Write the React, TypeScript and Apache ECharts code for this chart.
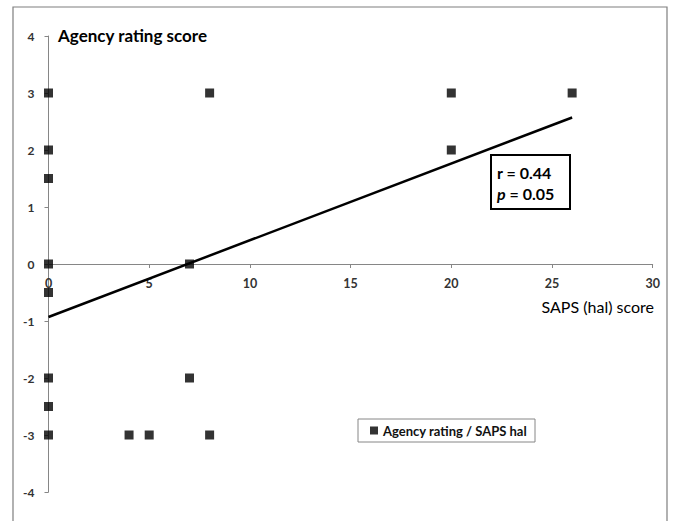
import React, { useEffect, useRef } from "react";
import * as echarts from "echarts";

// SAPS (hal) score vs agency rating score
const sapsX = [0, 0, 0, 0, 0, 0, 0, 0, 8, 20, 20, 26, 7, 7, 4, 5, 8];
const agencyY = [3, 2, 1.5, 0, -0.5, -2, -2.5, -3, 3, 3, 2, 3, 0, -2, -3, -3, -3];
// linear trend line endpoints
const trendX = [0, 26];
const trendY = [-0.93, 2.57];

const seriesName = "Agency rating / SAPS hal";
const titleText = "Agency rating score";
const xName = "SAPS (hal) score";
const statR = "r = 0.44";
const statP = "0.05";

const FONT = "Lato, 'Open Sans', sans-serif";

export default function App() {
  const ref = useRef<HTMLDivElement>(null);
  useEffect(() => {
    if (!ref.current) return;
    const chart = echarts.init(ref.current, null, { renderer: "svg" });
    const axisColor = "#868686";
    chart.setOption({
      animation: false,
      backgroundColor: "#ffffff",
      grid: { left: 48.5, right: 22.3, top: 36, bottom: 29 },
      xAxis: {
        type: "value",
        min: 0,
        max: 30,
        interval: 5,
        position: "bottom",
        offset: -228,
        axisLine: { show: true, onZero: false, lineStyle: { color: axisColor, width: 1 } },
        axisTick: { show: true, inside: false, length: 4, lineStyle: { color: axisColor } },
        axisLabel: { margin: 13, color: "#333", fontFamily: FONT, fontWeight: "bold", fontSize: 12.5 },
        splitLine: { show: false },
      },
      yAxis: {
        type: "value",
        min: -4,
        max: 4,
        interval: 1,
        axisLine: { show: true, onZero: false, lineStyle: { color: axisColor, width: 1 } },
        axisTick: { show: true, inside: false, length: 4, lineStyle: { color: axisColor } },
        axisLabel: { margin: 14, color: "#333", fontFamily: FONT, fontWeight: "bold", fontSize: 12 },
        splitLine: { show: false },
      },
      legend: {
        data: [seriesName],
        left: 358,
        top: 419,
        orient: "horizontal",
        borderColor: axisColor,
        borderWidth: 1,
        padding: [5, 8, 5, 12],
        itemWidth: 8,
        itemHeight: 8,
        icon: "rect",
        itemGap: 5,
        textStyle: { color: "#111", fontFamily: FONT, fontWeight: "bold", fontSize: 13 },
      },
      series: [
        {
          name: "trend",
          type: "line",
          data: trendX.map((x, i) => [x, trendY[i]]),
          symbol: "none",
          lineStyle: { color: "#000", width: 2.5 },
          z: 2,
          silent: true,
        },
        {
          name: seriesName,
          type: "scatter",
          data: sapsX.map((x, i) => [x, agencyY[i]]),
          symbol: "rect",
          symbolSize: 9,
          itemStyle: { color: "#000" },
          z: 3,
        },
      ],
      graphic: [
        {
          type: "rect",
          shape: { x: 13, y: 7, width: 654, height: 540 },
          style: { fill: "none", stroke: "#7f7f7f", lineWidth: 1.2 },
          silent: true,
          z: -1,
        },
        {
          type: "text",
          x: 58,
          y: 35,
          style: {
            text: titleText,
            fontFamily: FONT,
            fontWeight: "bold",
            fontSize: 17,
            fill: "#000",
            verticalAlign: "middle",
            align: "left",
          },
        },
        {
          type: "text",
          x: 654,
          y: 306,
          style: {
            text: xName,
            fontFamily: FONT,
            fontSize: 16,
            fill: "#000",
            verticalAlign: "middle",
            align: "right",
          },
        },
        {
          type: "rect",
          shape: { x: 491, y: 155, width: 79, height: 54 },
          style: { fill: "#fff", stroke: "#000", lineWidth: 2 },
          z: 10,
        },
        {
          type: "text",
          x: 497,
          y: 172,
          z: 11,
          style: {
            text: statR,
            fontFamily: FONT,
            fontWeight: "bold",
            fontSize: 16,
            fill: "#000",
            verticalAlign: "middle",
          },
        },
        {
          type: "text",
          x: 497,
          y: 193,
          z: 11,
          style: {
            text: "{i|p} = " + statP,
            fontFamily: FONT,
            fontWeight: "bold",
            fontSize: 16,
            fill: "#000",
            verticalAlign: "middle",
            rich: {
              i: { fontStyle: "italic", fontFamily: FONT, fontWeight: "bold", fontSize: 16, fill: "#000" },
            },
          },
        },
      ],
    });
    return () => chart.dispose();
  }, []);
  return (
    <div
      ref={ref}
      style={{ position: "fixed", left: 0, top: 0, width: 675, height: 521, background: "#fff" }}
    />
  );
}
